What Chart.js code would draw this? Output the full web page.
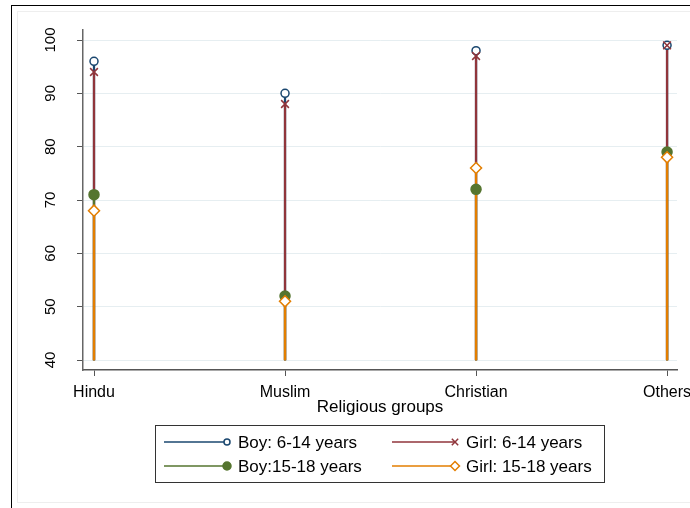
<!DOCTYPE html>
<html>
<head>
<meta charset="utf-8">
<script src="https://cdn.jsdelivr.net/npm/chart.js@4"></script>
<style>
  html, body { margin: 0; padding: 0; background: #fff; overflow: hidden; width: 690px; height: 508px; }
  #chart { position: absolute; left: 0; top: 0; }
</style>
</head>
<body>
<canvas id="chart" width="690" height="508"></canvas>
<script>
// Religious groups, x positions 1..4
const categories = ['Hindu', 'Muslim', 'Christian', 'Others'];
const yTicks = [40, 50, 60, 70, 80, 90, 100];
const baseValue = 40;

const boy614 = [96, 90, 98, 99];
const girl614 = [94, 88, 97, 99];
const boy1518 = [71, 52, 72, 79];
const girl1518 = [68, 51, 76, 78];

const FONT = '"Liberation Sans", Arial, sans-serif';

const series = [
  { label: 'Boy: 6-14 years', data: boy614, color: '#1a476f', style: 'circle', radius: 4, fill: '#ffffff' },
  { label: 'Girl: 6-14 years', data: girl614, color: '#90353b', style: 'crossRot', radius: 5.5, fill: '#90353b' },
  { label: 'Boy:15-18 years', data: boy1518, color: '#55752f', style: 'circle', radius: 5, fill: '#55752f' },
  { label: 'Girl: 15-18 years', data: girl1518, color: '#e37e00', style: 'rectRot', radius: 5.5, fill: '#ffffff' },
];

// drop lines as thin floating bars, markers as scatter points
const datasets = [];
series.forEach((s, i) => {
  datasets.push({
    type: 'bar',
    label: s.label + ' line',
    data: s.data.map((v, j) => ({ x: j + 1, y: [baseValue, v] })),
    backgroundColor: s.color,
    borderWidth: 0,
    barThickness: 1.6,
    grouped: false,
    order: 8 - i,
  });
});
series.forEach((s, i) => {
  datasets.push({
    type: 'scatter',
    label: s.label,
    data: s.data.map((v, j) => ({ x: j + 1, y: v })),
    pointStyle: s.style,
    pointRadius: s.radius,
    pointBorderColor: s.color,
    pointBackgroundColor: s.fill,
    pointBorderWidth: 1.5,
    showLine: false,
    order: 4 - i,
  });
});

// Stata-like frame: outer black border and faint inner region
const framePlugin = {
  id: 'frame',
  beforeDraw(chart) {
    const ctx = chart.ctx;
    ctx.save();
    ctx.fillStyle = '#ffffff';
    ctx.fillRect(0, 0, chart.width, chart.height);
    ctx.strokeStyle = '#eeeeee';
    ctx.lineWidth = 1;
    ctx.strokeRect(17.5, 11.5, 800, 491);
    ctx.strokeStyle = '#000000';
    ctx.strokeRect(11.5, 5.5, 800, 600);
    ctx.restore();
  }
};

// vertical y tick labels
const yLabelPlugin = {
  id: 'yLabels',
  afterDraw(chart) {
    const ctx = chart.ctx;
    const scale = chart.scales.y;
    ctx.save();
    ctx.fillStyle = '#000';
    ctx.font = '15px ' + FONT;
    ctx.textAlign = 'center';
    ctx.textBaseline = 'middle';
    yTicks.forEach(v => {
      ctx.save();
      ctx.translate(51, scale.getPixelForValue(v));
      ctx.rotate(-Math.PI / 2);
      ctx.fillText(String(v), 0, 0);
      ctx.restore();
    });
    ctx.restore();
  }
};

// boxed two-column legend below the axis
const legendPlugin = {
  id: 'boxLegend',
  afterDraw(chart) {
    const ctx = chart.ctx;
    ctx.save();
    ctx.strokeStyle = '#333';
    ctx.lineWidth = 1;
    ctx.strokeRect(155.5, 425.5, 449, 57);
    ctx.font = '17px ' + FONT;
    ctx.textBaseline = 'middle';
    ctx.textAlign = 'left';
    const cols = [164, 392];
    const rows = [442, 466];
    series.forEach((s, i) => {
      const x0 = cols[i % 2];
      const y = rows[Math.floor(i / 2)];
      const mx = x0 + 63;
      ctx.strokeStyle = s.color;
      ctx.lineWidth = 1.4;
      ctx.beginPath();
      ctx.moveTo(x0, y);
      ctx.lineTo(mx, y);
      ctx.stroke();
      ctx.fillStyle = s.fill;
      ctx.strokeStyle = s.color;
      ctx.lineWidth = 1.5;
      Chart.helpers.drawPoint(ctx, { pointStyle: s.style, radius: s.radius - 1, borderWidth: 1.5, rotation: 0 }, mx, y);
      ctx.fillStyle = '#000';
      ctx.fillText(s.label, mx + 11, y + 1);
    });
    ctx.restore();
  }
};

new Chart(document.getElementById('chart'), {
  type: 'bar',
  data: { datasets },
  options: {
    responsive: false,
    animation: false,
    layout: { padding: { left: 0, top: 30, right: 13, bottom: 90 } },
    plugins: { legend: { display: false }, tooltip: { enabled: false } },
    scales: {
      x: {
        type: 'linear',
        min: 0.9424,
        max: 4.052,
        offset: false,
        afterBuildTicks: s => { s.ticks = categories.map((c, i) => ({ value: i + 1 })); },
        // the last label runs off the canvas edge, as in the original
        afterFit: s => { s.height = 48; s.paddingLeft = 0; s.paddingRight = 0; },
        ticks: {
          color: '#000',
          font: { size: 16, family: FONT },
          padding: 7,
          maxRotation: 0,
          autoSkip: false,
          callback: v => categories[v - 1],
        },
        grid: { drawOnChartArea: false, drawTicks: true, tickLength: 6, tickColor: '#555', offset: false },
        border: { display: true, color: '#555', width: 1.5 },
        title: { display: true, text: 'Religious groups', color: '#000', font: { size: 17, family: FONT }, padding: { top: 0, bottom: 0 } },
      },
      y: {
        min: 38.125,
        max: 101.875,
        afterBuildTicks: s => { s.ticks = yTicks.map(v => ({ value: v })); },
        afterFit: s => { s.width = 83; },
        ticks: { color: 'rgba(0,0,0,0)', font: { size: 15, family: FONT } },
        grid: { color: '#e6eef1', lineWidth: 1, drawTicks: true, tickLength: 6, tickColor: '#555' },
        border: { display: true, color: '#666', width: 1.5 },
      }
    }
  },
  plugins: [framePlugin, yLabelPlugin, legendPlugin]
});
</script>
</body>
</html>
